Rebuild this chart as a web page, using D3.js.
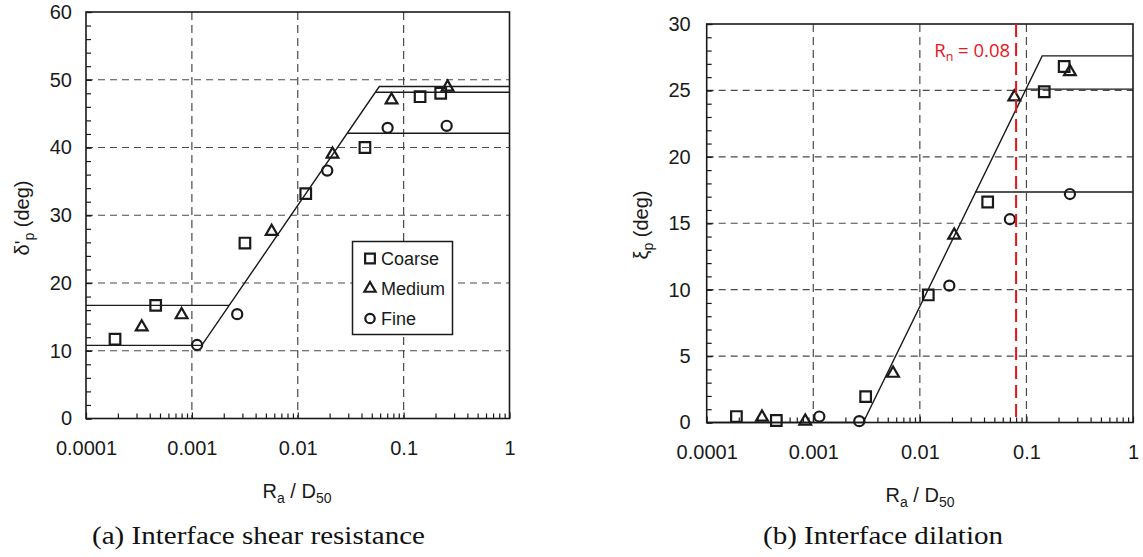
<!DOCTYPE html>
<html><head><meta charset="utf-8">
<script src="https://cdn.jsdelivr.net/npm/d3@7"></script>
<style>body{margin:0;background:#fff}</style>
</head><body>
<svg id="chart" width="1143" height="557"></svg>
<script>
// ---------- data ----------
const xTickValues = [0.0001, 0.001, 0.01, 0.1, 1];
const xTickLabels = ["0.0001", "0.001", "0.01", "0.1", "1"];
const seriesNames = ["Coarse", "Medium", "Fine"];

// (a) Interface shear resistance
const shearYTicks = [0, 10, 20, 30, 40, 50, 60];
const shearCoarseX = [0.000188, 0.000455, 0.00317, 0.0119, 0.0431, 0.143, 0.224];
const shearCoarseY = [11.7, 16.7, 25.9, 33.2, 40.0, 47.5, 48.0];
const shearMediumX = [0.000336, 0.0008, 0.00567, 0.0213, 0.0769, 0.26];
const shearMediumY = [13.5, 15.3, 27.6, 39.0, 47.0, 48.9];
const shearFineX = [0.00112, 0.00268, 0.019, 0.0706, 0.255];
const shearFineY = [10.85, 15.4, 36.6, 42.9, 43.2];
const shearFitLines = [
  [[0.0001, 10.8], [0.00124, 10.8], [0.0589, 49.0], [1, 49.0]],
  [[0.0001, 16.7], [0.00225, 16.7]],
  [[0.0541, 48.15], [1, 48.15]],
  [[0.0293, 42.1], [1, 42.1]]
];

// (b) Interface dilation
const dilYTicks = [0, 5, 10, 15, 20, 25, 30];
const dilCoarseX = [0.00019, 0.00045, 0.0031, 0.012, 0.0433, 0.147, 0.226];
const dilCoarseY = [0.45, 0.15, 1.95, 9.6, 16.6, 24.9, 26.8];
const dilMediumX = [0.00033, 0.00084, 0.0056, 0.021, 0.077, 0.256];
const dilMediumY = [0.4, 0.1, 3.7, 14.1, 24.5, 26.4];
const dilFineX = [0.00114, 0.0027, 0.0189, 0.070, 0.256];
const dilFineY = [0.45, 0.1, 10.3, 15.3, 17.2];
const dilFitLines = [
  [[0.0001, 0], [0.00294, 0], [0.1406, 27.6], [1, 27.6]],
  [[0.0995, 25.1], [1, 25.1]],
  [[0.0329, 17.35], [1, 17.35]]
];
const rnValue = 0.08;
const rnLabel = "0.08";

// ---------- drawing ----------
const svg = d3.select("#chart");
const FONT = "'Liberation Sans', Arial, Helvetica, sans-serif";
const INK = "#1a1a1a";

const symbolFor = {
  Coarse: d3.symbol().type(d3.symbolSquare).size(112),
  Medium: d3.symbol().type(d3.symbolTriangle).size(60),
  Fine: d3.symbol().type(d3.symbolCircle).size(80)
};

function minorTicks() {
  const out = [];
  for (let d = -4; d < 0; d++) for (let k = 2; k <= 9; k++) out.push(k * Math.pow(10, d));
  return out;
}

function drawPanel(p) {
  const x = d3.scaleLog().domain([0.0001, 1]).range([p.left, p.right]);
  const y = d3.scaleLinear().domain([p.yTicks[0], p.yTicks[p.yTicks.length - 1]]).range([p.bottom, p.top]);
  const g = svg.append("g");

  // grid
  g.append("g").selectAll("line").data(p.yTicks.slice(1, -1)).join("line")
    .attr("x1", p.left).attr("x2", p.right)
    .attr("y1", d => y(d)).attr("y2", d => y(d))
    .attr("stroke", "#4a4a4a").attr("stroke-width", 1.2).attr("stroke-dasharray", "7,5");
  g.append("g").selectAll("line").data(xTickValues.slice(1, -1)).join("line")
    .attr("x1", d => x(d)).attr("x2", d => x(d))
    .attr("y1", p.top).attr("y2", p.bottom)
    .attr("stroke", "#4a4a4a").attr("stroke-width", 1.2).attr("stroke-dasharray", "8,5");

  // x axis minor ticks
  const xMinor = g.append("g").attr("transform", `translate(0,${p.bottom})`)
    .call(d3.axisBottom(x).tickValues(minorTicks()).tickSize(-5).tickFormat(""));
  xMinor.select(".domain").remove();
  xMinor.selectAll("line").attr("stroke", INK).attr("stroke-width", 1.2);
  // x axis major
  const xAx = g.append("g").attr("transform", `translate(0,${p.bottom})`)
    .call(d3.axisBottom(x).tickValues(xTickValues).tickSize(-6).tickPadding(22)
      .tickFormat((d, i) => xTickLabels[i]));
  xAx.select(".domain").remove();
  xAx.selectAll("line").attr("stroke", INK).attr("stroke-width", 1.2);
  xAx.selectAll("text").attr("font-family", FONT).attr("font-size", 20).attr("fill", INK);

  // y minor
  const yMinorVals = d3.range(p.yTicks[0], p.yTicks[p.yTicks.length - 1] + 1e-9, p.yMinorStep);
  const yMinor = g.append("g").attr("transform", `translate(${p.left},0)`)
    .call(d3.axisLeft(y).tickValues(yMinorVals).tickSize(-5).tickFormat(""));
  yMinor.select(".domain").remove();
  yMinor.selectAll("line").attr("stroke", INK).attr("stroke-width", 1.2);
  const yAx = g.append("g").attr("transform", `translate(${p.left},0)`)
    .call(d3.axisLeft(y).tickValues(p.yTicks).tickSize(-6).tickPadding(p.yPad).tickFormat(d3.format("d")));
  yAx.select(".domain").remove();
  yAx.selectAll("line").attr("stroke", INK).attr("stroke-width", 1.2);
  yAx.selectAll("text").attr("font-family", FONT).attr("font-size", 20).attr("fill", INK);

  // frame
  g.append("rect").attr("x", p.left).attr("y", p.top)
    .attr("width", p.right - p.left).attr("height", p.bottom - p.top)
    .attr("fill", "none").attr("stroke", INK).attr("stroke-width", 1.6);

  // fit lines
  const line = d3.line().x(d => x(d[0])).y(d => y(d[1]));
  g.append("g").selectAll("path").data(p.fits).join("path")
    .attr("d", line).attr("fill", "none").attr("stroke", INK).attr("stroke-width", 1.4);

  // markers
  p.series.forEach(s => {
    g.append("g").selectAll("path").data(s.xs.map((v, i) => [v, s.ys[i]])).join("path")
      .attr("d", symbolFor[s.name])
      .attr("transform", d => `translate(${x(d[0])},${y(d[1])})`)
      .attr("fill", "none").attr("stroke", INK).attr("stroke-width", 2.2);
  });

  // x label
  const xl = g.append("text").attr("x", p.xLabelX).attr("y", p.bottom + 79)
    .attr("text-anchor", "middle").attr("font-family", FONT).attr("font-size", 20).attr("fill", INK);
  xl.append("tspan").text("R");
  xl.append("tspan").attr("font-size", 14).attr("dy", 5).text("a");
  xl.append("tspan").attr("dy", -5).text(" / D");
  xl.append("tspan").attr("font-size", 14).attr("dy", 5).text("50");

  // y label
  const yl = g.append("text").attr("transform", `translate(${p.yLabelX},${p.yLabelY}) rotate(-90)`)
    .attr("text-anchor", "middle").attr("font-family", FONT).attr("font-size", 20).attr("fill", INK);
  yl.append("tspan").text(p.yLabelSym);
  yl.append("tspan").attr("font-size", 14).attr("dy", 5).text("p");
  yl.append("tspan").attr("dy", -5).text(" (deg)");

  // caption
  svg.append("text").attr("x", p.capX).attr("y", 544)
    .attr("font-family", "'Liberation Serif', 'DejaVu Serif', serif").attr("font-size", 26)
    .attr("fill", "#111").attr("textLength", p.capW).attr("lengthAdjust", "spacingAndGlyphs")
    .text(p.caption);

  return { x, y, g };
}

// Panel (a)
const A = drawPanel({
  left: 86, right: 509.5, top: 12, bottom: 418.5,
  yTicks: shearYTicks, yMinorStep: 2, yPad: 14,
  fits: shearFitLines,
  series: [
    { name: "Coarse", xs: shearCoarseX, ys: shearCoarseY },
    { name: "Medium", xs: shearMediumX, ys: shearMediumY },
    { name: "Fine", xs: shearFineX, ys: shearFineY }
  ],
  xLabelX: 297, yLabelX: 29, yLabelY: 218, yLabelSym: "δ'",
  caption: "(a) Interface shear resistance", capX: 92, capW: 333
});

// legend for (a)
const lg = A.g.append("g");
lg.append("rect").attr("x", 352.5).attr("y", 241.5).attr("width", 100).attr("height", 93)
  .attr("fill", "#fff").attr("stroke", INK).attr("stroke-width", 1.5);
seriesNames.forEach((n, i) => {
  const cy = 258.5 + i * 30;
  lg.append("path").attr("d", d3.symbol().type(
      n === "Coarse" ? d3.symbolSquare : n === "Medium" ? d3.symbolTriangle : d3.symbolCircle)
      .size(n === "Coarse" ? 95 : n === "Medium" ? 55 : 70))
    .attr("transform", `translate(370,${cy})`).attr("fill", "none").attr("stroke", INK).attr("stroke-width", 2.2);
  lg.append("text").attr("x", 381).attr("y", cy + 6.5).attr("font-family", FONT)
    .attr("font-size", 18).attr("fill", INK).text(n);
});

// Panel (b)
const B = drawPanel({
  left: 706.7, right: 1133, top: 24, bottom: 422.5,
  yTicks: dilYTicks, yMinorStep: 1, yPad: 16,
  fits: dilFitLines,
  series: [
    { name: "Coarse", xs: dilCoarseX, ys: dilCoarseY },
    { name: "Medium", xs: dilMediumX, ys: dilMediumY },
    { name: "Fine", xs: dilFineX, ys: dilFineY }
  ],
  xLabelX: 920, yLabelX: 648, yLabelY: 225, yLabelSym: "ξ",
  caption: "(b) Interface dilation", capX: 763, capW: 240
});

// Rn marker
B.g.append("line").attr("x1", B.x(rnValue)).attr("x2", B.x(rnValue))
  .attr("y1", B.y(30)).attr("y2", B.y(0))
  .attr("stroke", "#e8141b").attr("stroke-width", 2).attr("stroke-dasharray", "13,6");
const rt = B.g.append("text").attr("x", B.x(rnValue) - 6).attr("y", 57).attr("text-anchor", "end")
  .attr("font-family", "'Open Sans', 'Noto Sans', sans-serif").attr("font-size", 18.5).attr("fill", "#e8141b");
rt.append("tspan").text("R");
rt.append("tspan").attr("font-size", 12.5).attr("dy", 4).text("n");
rt.append("tspan").attr("dy", -4).text(" = " + rnLabel);
</script>
</body></html>
